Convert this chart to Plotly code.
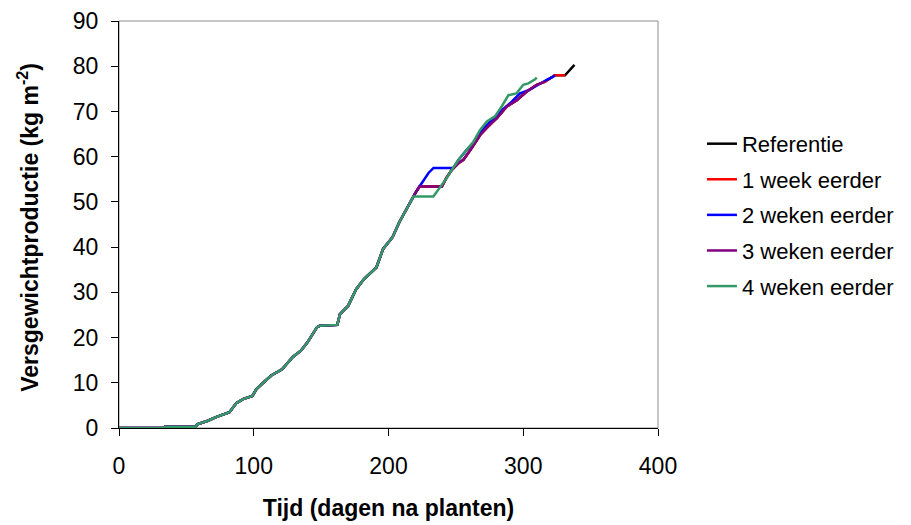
import plotly.graph_objects as go

# Shared early part of the curves (days after planting, kg m-2)
base_days = [0, 33, 34, 57, 58, 66, 72, 78, 82, 87, 92, 99, 102, 107, 113, 121, 129, 135,
             140, 147, 149, 162, 164, 170, 176, 182, 191, 196, 203, 208, 212, 217]
base_vals = [0, 0, 0.3, 0.3, 0.8, 1.6, 2.4, 3.0, 3.5, 5.5, 6.4, 7.1, 8.6, 10.0, 11.6, 13.0, 15.7, 17.1,
             19.0, 22.3, 22.6, 22.8, 25.2, 27.0, 30.7, 33.0, 35.5, 39.6, 42.2, 45.5, 47.7, 50.6]

# Scenario-specific tails
ref_days = [220, 223, 239.6, 243, 247, 252, 255.6, 262, 268, 274, 280.4, 287.8, 295.2, 302.6,
            310, 316.2, 323.5, 331, 333.5, 336, 338]
ref_vals = [52.0, 53.4, 53.4, 55.3, 57.1, 58.6, 59.3, 62.0, 64.8, 66.7, 68.5, 71.1, 72.5, 74.4,
            75.9, 76.6, 78.0, 78.0, 78.8, 79.5, 80.3]

w1_days = [220, 223, 239.6, 243, 247, 252, 255.6, 262, 268, 274, 280.4, 287.8, 295.2, 302.6,
           310, 316.2, 323.5, 331]
w1_vals = [52.0, 53.4, 53.4, 55.3, 57.1, 58.6, 59.3, 62.0, 64.8, 66.7, 68.5, 71.1, 72.5, 74.4,
           75.9, 76.6, 78.0, 78.0]

w2_days = [220, 223, 229.7, 233.4, 248.2, 252, 258, 263, 268, 274, 280.4, 285, 290.2, 297.6,
           305, 312.5, 317.4, 322.3, 323.5]
w2_vals = [52.0, 53.4, 56.4, 57.5, 57.5, 59.3, 61.5, 63.0, 65.5, 67.3, 69.2, 70.5, 71.8, 74.0,
           74.8, 76.2, 77.0, 77.7, 78.0]

w3_days = [220, 223, 239.6, 243, 247, 252, 255.6, 262, 268, 274, 280.4, 287.8, 295.2, 302.6,
           310, 316.2]
w3_vals = [52.0, 53.4, 53.4, 55.3, 57.1, 58.6, 59.3, 62.0, 64.8, 66.7, 68.5, 71.1, 72.5, 74.4,
           75.9, 76.6]

w4_days = [218.5, 233.3, 237, 239.6, 243.3, 247, 252, 258, 263, 268, 273, 279, 284, 289, 295,
           300, 303.8, 308.8, 310]
w4_vals = [51.2, 51.2, 52.7, 53.8, 55.3, 57.1, 59.3, 61.5, 63.3, 65.9, 67.8, 68.9, 71.1, 73.6,
           74.0, 75.9, 76.2, 77.1, 77.5]

names = ["Referentie", "1 week eerder", "2 weken eerder", "3 weken eerder", "4 weken eerder"]
colors = ["#000000", "#FF0000", "#0000FF", "#800080", "#339966"]
tails = [(ref_days, ref_vals), (w1_days, w1_vals), (w2_days, w2_vals),
         (w3_days, w3_vals), (w4_days, w4_vals)]

x_title = "<b>Tijd (dagen na planten)</b>"
y_title = "<b>Versgewichtproductie (kg m<sup>-2</sup>)</b>"

FONT = "Liberation Sans, Arial, sans-serif"
FS = 23
LFS = 22

fig = go.Figure()
for i, (name, col, (td, tv)) in enumerate(zip(names, colors, tails)):
    fig.add_trace(go.Scatter(
        x=base_days + td, y=base_vals + tv, mode="lines", name=name,
        line=dict(color=col, width=2.5), legendgroup=f"g{i}",
    ))

fig.update_layout(
    width=903, height=517,
    margin=dict(l=110.5, r=253, t=13, b=96.5, autoexpand=False),
    paper_bgcolor="white", plot_bgcolor="white",
    font=dict(family=FONT, size=FS, color="black"),
    showlegend=True,
    legend=dict(xref="container", yref="container", x=0.7685, y=0.7778,
                xanchor="left", yanchor="top",
                font=dict(family=FONT, size=LFS, color="black"),
                tracegroupgap=4, bgcolor="rgba(0,0,0,0)"),
    shapes=[dict(type="rect", xref="paper", yref="paper", x0=0, y0=0, x1=1, y1=1,
                 line=dict(color="#8c8c8c", width=1), layer="below")],
    annotations=[dict(text=y_title, textangle=-90, xref="paper", yref="paper",
                      x=-0.168, y=0.493, xanchor="center", yanchor="middle",
                      showarrow=False, font=dict(family=FONT, size=FS, color="black"))],
)
fig.update_xaxes(
    range=[0, 400], tickvals=[0, 100, 200, 300, 400], ticks="outside", ticklen=7,
    tickcolor="black", showline=True, linecolor="black", linewidth=1, showgrid=False,
    zeroline=False, tickfont=dict(size=FS), ticklabelstandoff=10, automargin=False,
    title=dict(text=x_title, font=dict(size=FS), standoff=22),
)
fig.update_yaxes(
    range=[0, 90], tickvals=list(range(0, 91, 10)), ticks="outside", ticklen=7,
    tickcolor="black", showline=True, linecolor="black", linewidth=1, showgrid=False,
    zeroline=False, tickfont=dict(size=FS), ticklabelstandoff=8, automargin=False,
)

fig.write_html("out.html")
